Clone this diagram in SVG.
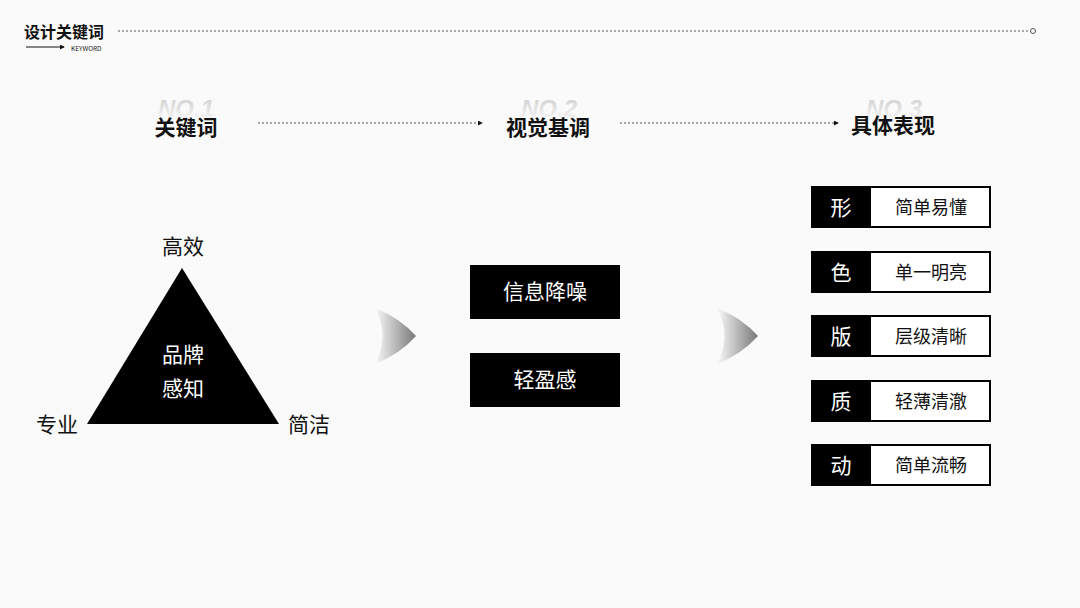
<svg xmlns="http://www.w3.org/2000/svg" width="1080" height="608" viewBox="0 0 1080 608">
<style>
text{font-family:"Noto Sans CJK SC","Liberation Sans",sans-serif}
.h{font-size:21px;font-weight:bold;fill:#111;text-anchor:middle}
.no{font-family:"Liberation Sans",sans-serif;font-size:24px;font-weight:bold;font-style:italic;fill:url(#fade);text-anchor:middle}
.w{fill:#fff;font-size:21px;text-anchor:middle}
.k{fill:#111;font-size:21px;text-anchor:middle}
.s{fill:#111;font-size:18px;text-anchor:middle}
.dash{stroke:#555;stroke-width:1;stroke-dasharray:2 2;fill:none}
</style>
<defs>
<linearGradient id="fade" x1="0" y1="0" x2="0" y2="1"><stop offset="0" stop-color="#ccc"/><stop offset="1" stop-color="#fafafa"/></linearGradient>
<linearGradient id="chev" x1="0" y1="0" x2="1" y2="0"><stop offset="0" stop-color="#fafafa"/><stop offset="1" stop-color="#777"/></linearGradient>
<marker id="ar" viewBox="0 0 6 6" refX="5" refY="3" markerWidth="5" markerHeight="5" orient="auto"><path d="M0 0L6 3L0 6z" fill="#111"/></marker>
</defs>
<rect width="1080" height="608" fill="#fafafa"/>
<g id="title">
<text x="24" y="38" font-size="16" font-weight="bold" fill="#111">设计关键词</text>
<text x="71" y="51" font-family="Liberation Sans" font-size="6.5" fill="#222">KEYWORD</text>
</g>
<g id="connectors">
<line x1="26" y1="47" x2="64" y2="47" stroke="#111" marker-end="url(#ar)"/>
<line x1="118" y1="31" x2="1030" y2="31" class="dash"/>
<circle cx="1033" cy="31" r="2.5" fill="#fafafa" stroke="#555"/>
<line x1="258" y1="123" x2="482" y2="123" class="dash" marker-end="url(#ar)"/>
<line x1="620" y1="123" x2="838" y2="123" class="dash" marker-end="url(#ar)"/>
<path d="M375 308 Q400 318 416 336 Q400 354 375 364 Q390 336 375 308z" fill="url(#chev)"/>
<path d="M717 308 Q742 318 758 336 Q742 354 717 364 Q732 336 717 308z" fill="url(#chev)"/>
</g>
<g id="headers">
<text x="186" y="117" class="no">NO.1</text>
<text x="186" y="135" class="h">关键词</text>
<text x="549" y="117" class="no">NO.2</text>
<text x="548" y="135" class="h">视觉基调</text>
<text x="894" y="117" class="no">NO.3</text>
<text x="893" y="133" class="h">具体表现</text>
</g>
<g id="triangle">
<path d="M182 268 L279 424 L87 424z" fill="#000"/>
<text x="183" y="362" class="w">品牌</text>
<text x="183" y="396" class="w">感知</text>
<text x="183" y="254" class="k">高效</text>
<text x="57" y="432" class="k">专业</text>
<text x="309" y="432" class="k">简洁</text>
</g>
<g id="tone1"><rect x="470" y="265" width="150" height="54" fill="#000"/><text x="545" y="299" class="w">信息降噪</text></g>
<g id="tone2"><rect x="470" y="353" width="150" height="54" fill="#000"/><text x="545" y="387" class="w">轻盈感</text></g>
<g id="r1"><rect x="812" y="187" width="178" height="40" fill="#fff" stroke="#000" stroke-width="2"/><rect x="811" y="186" width="60" height="42" fill="#000"/><text x="841" y="215" class="w">形</text><text x="931" y="214" class="s">简单易懂</text></g>
<g id="r2"><rect x="812" y="252" width="178" height="40" fill="#fff" stroke="#000" stroke-width="2"/><rect x="811" y="251" width="60" height="42" fill="#000"/><text x="841" y="280" class="w">色</text><text x="931" y="279" class="s">单一明亮</text></g>
<g id="r3"><rect x="812" y="316" width="178" height="40" fill="#fff" stroke="#000" stroke-width="2"/><rect x="811" y="315" width="60" height="42" fill="#000"/><text x="841" y="344" class="w">版</text><text x="931" y="343" class="s">层级清晰</text></g>
<g id="r4"><rect x="812" y="381" width="178" height="40" fill="#fff" stroke="#000" stroke-width="2"/><rect x="811" y="380" width="60" height="42" fill="#000"/><text x="841" y="409" class="w">质</text><text x="931" y="408" class="s">轻薄清澈</text></g>
<g id="r5"><rect x="812" y="445" width="178" height="40" fill="#fff" stroke="#000" stroke-width="2"/><rect x="811" y="444" width="60" height="42" fill="#000"/><text x="841" y="473" class="w">动</text><text x="931" y="472" class="s">简单流畅</text></g>
</svg>
